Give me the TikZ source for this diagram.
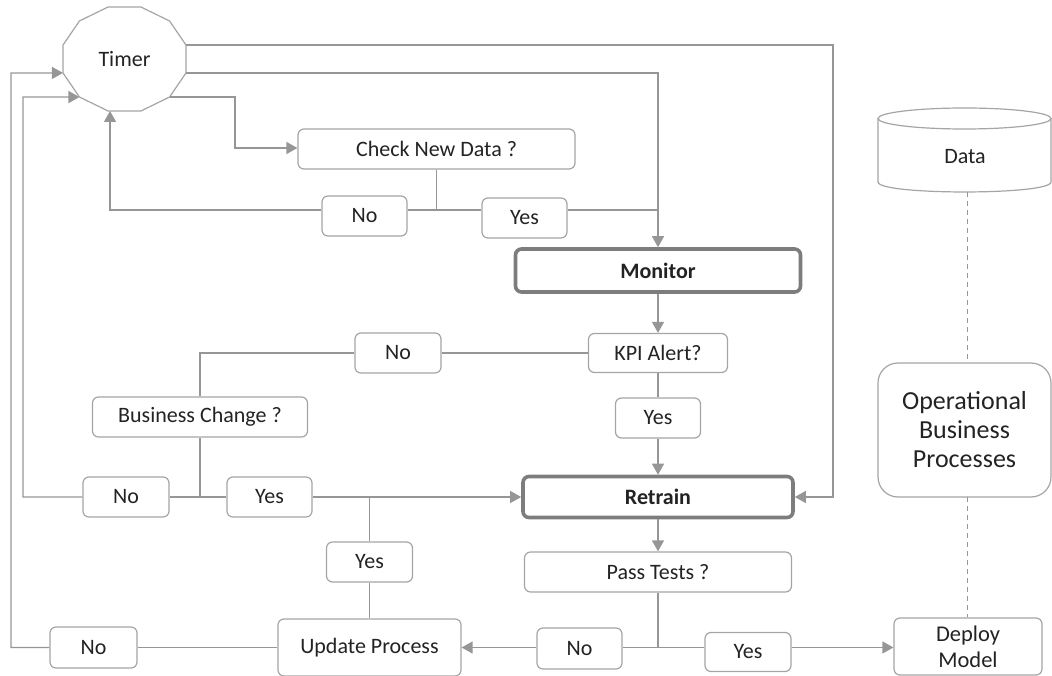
\documentclass[tikz,border=0pt]{standalone}
\usepackage{fontspec}
\setmainfont{Carlito}
\usetikzlibrary{arrows.meta,calc}
\definecolor{lg}{RGB}{150,150,150}
\definecolor{bg}{RGB}{165,165,165}
\definecolor{tg}{RGB}{125,125,125}
\definecolor{tx}{RGB}{35,35,35}
\newcommand\fsz{\fontsize{22}{26}\selectfont}
\begin{document}
\begin{tikzpicture}[x=1pt,y=-1pt,
  box/.style={draw=bg,line width=1.2pt,rounded corners=6pt,fill=white,text=tx,font=\fsz,inner sep=0pt,align=center},
  bigbox/.style={box,draw=tg,line width=3.6pt,font=\fsz\bfseries},
  sz/.style 2 args={minimum width=#1pt,minimum height=#2pt},
  ln/.style={draw=lg,line width=1.3pt},
  arr/.style={ln,-{Triangle[length=11pt,width=12pt]}},
  dsh/.style={draw=lg,line width=1pt,dash pattern=on 5pt off 4pt}]
\useasboundingbox (0,0) rectangle (1052,676);

% Timer (12-gon)
\foreach \k in {0,...,11}
  \coordinate (tv\k) at ({124.5+63.7*cos(15+30*\k)},{59-53.8*sin(15+30*\k)});
\draw[draw=bg,line width=1.2pt,fill=white] (tv0)--(tv1)--(tv2)--(tv3)--(tv4)--(tv5)--(tv6)--(tv7)--(tv8)--(tv9)--(tv10)--(tv11)--cycle;
\node[text=tx,font=\fsz] (timer) at (124.5,59) {Timer};
\coordinate (tb) at (110,111);

% boxes
\node[box,sz={277}{40}] (check) at (436.5,149) {Check New Data ?};
\node[box,sz={85}{40}] (no1) at (364.5,216) {No};
\node[box,sz={85}{40}] (yes1) at (524.5,218) {Yes};
\node[bigbox,sz={285}{43}] (monitor) at (658,270.5) {Monitor};
\node[box,sz={139}{39}] (kpi) at (658,353) {KPI Alert?};
\node[box,sz={86}{40}] (no2) at (398,353) {No};
\node[box,sz={85}{40}] (yes2) at (658,418) {Yes};
\node[box,sz={215}{40}] (biz) at (200,417) {Business Change ?};
\node[box,sz={86}{40}] (no3) at (126,497) {No};
\node[box,sz={85}{40}] (yes3) at (269.5,497) {Yes};
\node[bigbox,sz={270}{41}] (retrain) at (658,497) {Retrain};
\node[box,sz={86}{40}] (yes4) at (369.5,562) {Yes};
\node[box,sz={267}{40}] (pass) at (658,572) {Pass Tests ?};
\node[box,sz={183}{57}] (update) at (369.5,647.5) {Update Process};
\node[box,sz={87}{41}] (no4) at (93.5,647.5) {No};
\node[box,sz={85}{41}] (no5) at (579.5,648.5) {No};
\node[box,sz={86}{39}] (yes5) at (748,652) {Yes};
\node[box,sz={148}{57},font=\fontsize{22.5}{26}\selectfont] (deploy) at (968,646.5) {Deploy\\Model};
\node[box,sz={173}{134},rounded corners=20pt,font=\fontsize{26}{29}\selectfont] (ops) at (964.5,430) {Operational\\Business\\Processes};

% Data cylinder
\node[minimum width=173pt,minimum height=84pt,inner sep=0pt] (data) at (964.5,150) {};
\draw[draw=bg,line width=1.2pt,fill=white] (878,118.5) -- (878,182) .. controls (878,195.3) and (1051,195.3) .. (1051,182) -- (1051,118.5);
\draw[draw=bg,line width=1.2pt,fill=white] (964.5,118.5) ellipse [x radius=86.5pt,y radius=10.5pt];
\node[text=tx,font=\fsz] (datalbl) at (965,157) {Data};

% connectors from Timer
\coordinate (cR) at (833,497);
\draw[arr] (tv0) -| (cR) -- (retrain.east);
\draw[arr] (tv11) -| (monitor.north);
\coordinate (cC) at (235,148);
\draw[arr] (tv10) -| (cC) -- (cC -| check.west);

% check new data
\coordinate (j1) at (436.5,210);
\draw[ln] (check.south) -- (j1);
\draw[ln] (j1) -- (j1 -| no1.east);
\draw[ln] (j1) -- (j1 -| yes1.west);
\draw[ln] (j1 -| yes1.east) -- (j1 -| monitor.north);
\draw[arr] (j1 -| no1.west) -| (tb);

% monitor / kpi
\draw[arr] (monitor.south) -- (kpi.north);
\draw[ln] (kpi.west) -- (no2.east);
\draw[ln] (no2.west) -| (biz.north);
\draw[ln] (kpi.south) -- (yes2.north);
\draw[arr] (yes2.south) -- (retrain.north);

% business change
\coordinate (j2) at (200,497);
\draw[ln] (biz.south) -- (j2);
\draw[ln] (j2) -- (no3.east);
\draw[ln] (j2) -- (yes3.west);
\coordinate (cL2) at (23,97);
\draw[arr] (no3.west) -| (cL2) -- (tv7);
\draw[arr] (yes3.east) -- (retrain.west);
\coordinate (j3) at (369.5,497);
\draw[ln] (j3) -- (yes4.north);
\draw[ln] (yes4.south) -- (update.north);

% retrain / tests
\draw[arr] (retrain.south) -- (pass.north);
\coordinate (j4) at (658,647.5);
\draw[ln] (pass.south) -- (j4);
\draw[ln] (j4) -- (j4 -| no5.east);
\draw[ln] (j4) -- (j4 -| yes5.west);
\draw[arr] (j4 -| no5.west) -- (j4 -| update.east);
\draw[arr] (j4 -| yes5.east) -- (j4 -| deploy.west);

% update process
\draw[ln] (update.west) -- (no4.east);
\coordinate (cL1) at (11,73);
\draw[arr] (no4.west) -| (cL1) -- (tv6);

% dashed
\coordinate (dtop) at (967,192);
\coordinate (dmid) at (967,363);
\coordinate (dlow) at (967,497);
\draw[dsh] (dtop) -- (dmid);
\draw[dsh] (dlow) -- (dlow |- deploy.north);
\end{tikzpicture}
\end{document}
